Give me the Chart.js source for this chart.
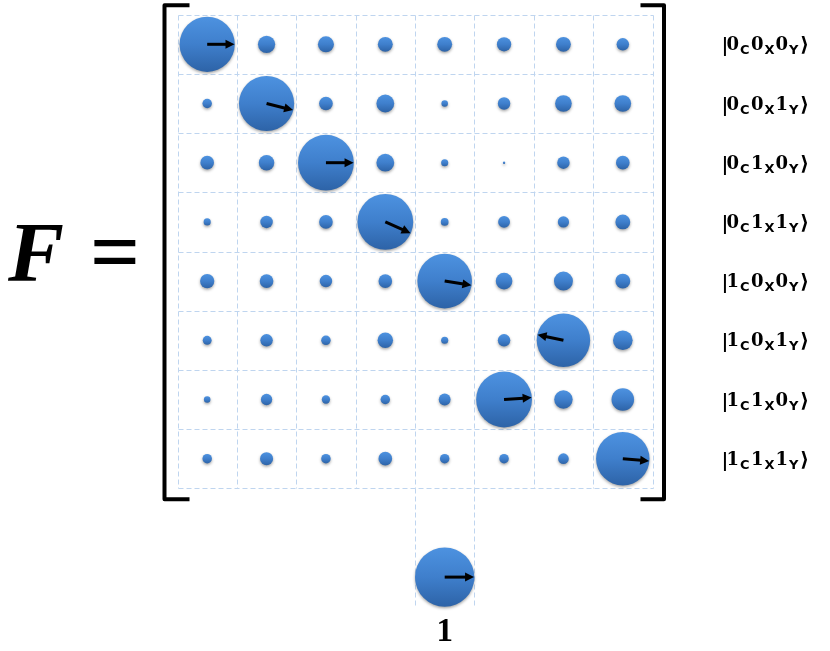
<!DOCTYPE html>
<html><head><meta charset="utf-8">
<script src="https://cdn.jsdelivr.net/npm/chart.js@4/dist/chart.umd.min.js"></script>
<style>html,body{margin:0;padding:0;background:#fff;overflow:hidden}#wrap{position:relative;width:830px;height:651px}</style>
</head><body><div id="wrap"><canvas id="c" width="830" height="651"></canvas></div>
<script>
// ---- data ----
const basisStates = ['000','001','010','011','100','101','110','111'];
const subscriptNames = ['C','X','Y'];
// magnitudes of matrix elements (reference element = 1)
const row0 = [0.93,0.29,0.27,0.25,0.25,0.24,0.25,0.21];
const row1 = [0.16,0.93,0.23,0.30,0.11,0.21,0.28,0.28];
const row2 = [0.23,0.26,0.94,0.30,0.12,0.04,0.21,0.23];
const row3 = [0.12,0.21,0.23,0.94,0.13,0.20,0.19,0.25];
const row4 = [0.24,0.23,0.21,0.23,0.92,0.28,0.32,0.25];
const row5 = [0.15,0.21,0.16,0.26,0.12,0.21,0.90,0.33];
const row6 = [0.11,0.19,0.14,0.16,0.20,0.94,0.31,0.38];
const row7 = [0.16,0.22,0.16,0.23,0.16,0.16,0.18,0.90];
const magnitudes = [row0,row1,row2,row3,row4,row5,row6,row7];
// dominant element of each row and its phase (degrees)
const dominantCol = [0,1,2,3,4,6,5,7];
const dominantPhase = [0,-14,0,-24,-9,168,4,-5];
const refMagnitude = 1;
const refPhase = 0;
const refLabel = '1';
const matrixName = 'F';
const eqSign = '=';

// ---- layout constants ----
const PAD = { left: 177.5, right: 177.5, top: 14.7, bottom: 44.3 };
const HALF_CELL = (830 - PAD.left - PAD.right) / 8 / 2; // bubble radius of magnitude 1

// ---- build datasets ----
const matrixPoints = [];
magnitudes.forEach((row, r) => row.forEach((m, c) => {
  matrixPoints.push({x: c + 0.5, y: r + 0.5, r: m * HALF_CELL, p: dominantCol[r] === c ? dominantPhase[r] : null});
}));
const refPoints = [{x: 4.5, y: 9.5, r: refMagnitude * HALF_CELL, p: refPhase}];

function bubbleFill(ctx){
  const ch = ctx.chart, ys = ch.scales.y;
  if (!ctx.raw || !ys || !ch.chartArea) return '#3d7cc9';
  const cy = ys.getPixelForValue(ctx.raw.y);
  const r = Math.max(1, ctx.raw.r);
  if (!isFinite(cy)) return '#3d7cc9';
  const g = ch.ctx.createLinearGradient(0, cy - r, 0, cy + r);
  g.addColorStop(0, '#4d92e0');
  g.addColorStop(0.5, '#3f7fcc');
  g.addColorStop(1, '#2d63a7');
  return g;
}

const GRID = '#bfd5ef';
const drawPlugin = {
  id: 'matrixDecor',
  beforeDatasetsDraw(chart){
    const {ctx, scales:{x, y}} = chart;
    ctx.save();
    ctx.strokeStyle = GRID; ctx.lineWidth = 1; ctx.setLineDash([5,3]);
    const px = v => Math.round(x.getPixelForValue(v)) + 0.5;
    const py = v => Math.round(y.getPixelForValue(v)) + 0.5;
    for (let i = 0; i <= 8; i++){
      ctx.beginPath(); ctx.moveTo(px(0), py(i)); ctx.lineTo(px(8), py(i)); ctx.stroke();
      ctx.beginPath(); ctx.moveTo(px(i), py(0)); ctx.lineTo(px(i), py(8)); ctx.stroke();
    }
    [4,5].forEach(i => { ctx.beginPath(); ctx.moveTo(px(i), py(8)); ctx.lineTo(px(i), py(10)); ctx.stroke(); });
    ctx.restore();
    ctx.save();
    ctx.shadowColor = 'rgba(0,0,0,0.35)'; ctx.shadowBlur = 3; ctx.shadowOffsetY = 1.5;
  },
  afterDatasetsDraw(chart){
    const ctx = chart.ctx;
    ctx.restore();
    chart.data.datasets.forEach((ds, di) => {
      const meta = chart.getDatasetMeta(di);
      meta.data.forEach((el, i) => {
        const p = ds.data[i].p;
        if (p === null || p === undefined) return;
        const r = el.options.radius;
        const a = p * Math.PI / 180;
        const dx = Math.cos(a), dy = -Math.sin(a);
        const tipX = el.x + dx * r * 0.99, tipY = el.y + dy * r * 0.99;
        const head = 9, hw = 4.5;
        const bx = tipX - dx * head, by = tipY - dy * head;
        ctx.save();
        ctx.strokeStyle = '#000'; ctx.fillStyle = '#000'; ctx.lineWidth = 3;
        ctx.beginPath(); ctx.moveTo(el.x, el.y); ctx.lineTo(bx + dx, by + dy); ctx.stroke();
        ctx.beginPath(); ctx.moveTo(tipX, tipY);
        ctx.lineTo(bx - dy * hw, by + dx * hw);
        ctx.lineTo(bx + dy * hw, by - dx * hw);
        ctx.closePath(); ctx.fill();
        ctx.restore();
      });
    });
  },
  afterDraw(chart){
    const {ctx, chartArea:a, scales:{x, y}} = chart;
    const top = y.getPixelForValue(0), bot = y.getPixelForValue(8);
    ctx.save();
    ctx.strokeStyle = '#000'; ctx.lineWidth = 4; ctx.lineJoin = 'round';
    const lx = a.left - 13, rx = a.right + 11.5, t = top - 9.5, b = bot + 11;
    ctx.beginPath(); ctx.moveTo(a.left + 12, t); ctx.lineTo(lx, t); ctx.lineTo(lx, b); ctx.lineTo(a.left + 12, b); ctx.stroke();
    ctx.beginPath(); ctx.moveTo(a.right - 12, t); ctx.lineTo(rx, t); ctx.lineTo(rx, b); ctx.lineTo(a.right - 12, b); ctx.stroke();
    ctx.fillStyle = '#000'; ctx.textBaseline = 'alphabetic'; ctx.textAlign = 'left';
    ctx.font = "bold italic 84px 'Liberation Serif'";
    ctx.fillText(matrixName, 8, 281);
    ctx.font = "bold 88px 'Liberation Serif'";
    ctx.fillText(eqSign, 90, 282);
    const labX = a.right + 69;
    const digitOff = [5, 29.5, 54];
    const subOff = [18.5, 43, 67.5];
    basisStates.forEach((st, r) => {
      const cy = y.getPixelForValue(r + 0.5);
      const base = cy + 6;
      ctx.font = "bold 19px 'DejaVu Serif'";
      ctx.fillText('|', labX, base + 1);
      for (let k = 0; k < 3; k++){
        ctx.font = "bold 18px 'DejaVu Serif'";
        ctx.fillText(st[k], labX + digitOff[k], base);
        ctx.font = "bold 13px 'DejaVu Sans'";
        ctx.fillText(subscriptNames[k], labX + subOff[k], base + 4);
      }
      ctx.font = "bold 20px 'DejaVu Sans'";
      ctx.fillText('\u27E9', labX + 78.5, base + 1);
    });
    ctx.textAlign = 'center';
    ctx.font = "bold 33px 'Liberation Serif'";
    ctx.fillText(refLabel, x.getPixelForValue(4.5), 641);
    ctx.restore();
  }
};

new Chart(document.getElementById('c'), {
  type: 'bubble',
  data: { datasets: [
    { label: 'F', data: matrixPoints },
    { label: 'ref', data: refPoints }
  ]},
  options: {
    responsive: false, animation: false, devicePixelRatio: 1,
    layout: { padding: PAD, autoPadding: false },
    scales: {
      x: { type: 'linear', min: 0, max: 8, display: false },
      y: { type: 'linear', min: 0, max: 10, reverse: true, display: false }
    },
    plugins: { legend: { display: false }, tooltip: { enabled: false } },
    datasets: { bubble: { clip: false } },
    elements: { point: { backgroundColor: bubbleFill, borderWidth: 0, borderColor: 'rgba(0,0,0,0)' } }
  },
  plugins: [drawPlugin]
});
</script></body></html>
